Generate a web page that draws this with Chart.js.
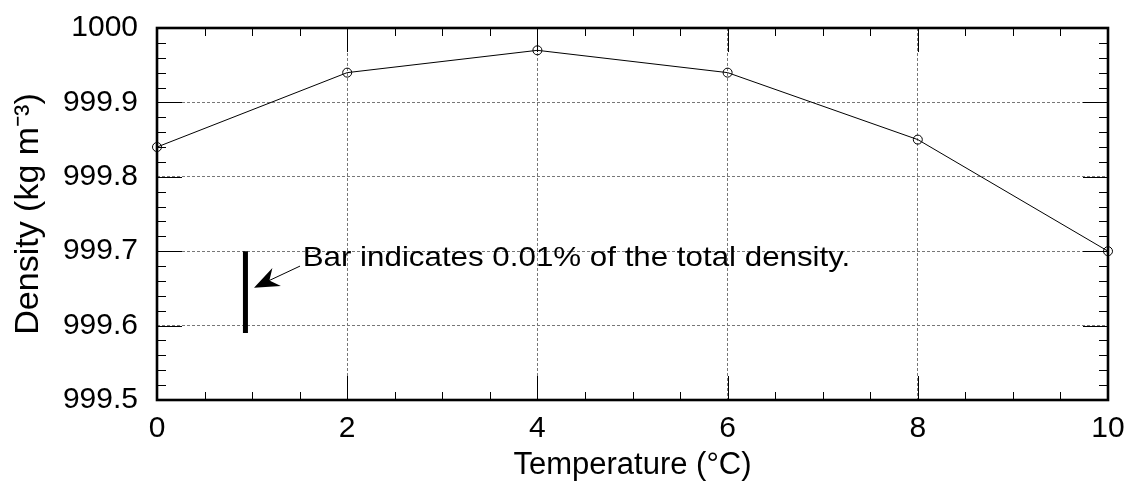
<!DOCTYPE html>
<html>
<head>
<meta charset="utf-8">
<script src="https://cdn.jsdelivr.net/npm/chart.js@4.4.0/dist/chart.umd.min.js"></script>
<style>
  html, body { margin: 0; padding: 0; background: #ffffff; }
  canvas { display: block; }
</style>
</head>
<body>
<canvas id="chart" width="1133" height="485"></canvas>
<script>
// ---- data ----
const temperatures = [0, 2, 4, 6, 8, 10];
const densities = [999.84, 999.94, 999.97, 999.94, 999.85, 999.70];

const xTickValues = [0, 2, 4, 6, 8, 10];
const xTickLabels = ['0', '2', '4', '6', '8', '10'];
const yTickValues = [999.5, 999.6, 999.7, 999.8, 999.9, 1000];
const yTickLabels = ['999.5', '999.6', '999.7', '999.8', '999.9', '1000'];

const xRange = [0, 10];
const yRange = [999.5, 1000];
const xMajorStep = 2, xMinorStep = 0.5;
const yMajorStep = 0.1, yMinorStep = 0.02;

// annotation: bar showing 0.01% of total density
const barX = [0.93, 0.93];
const barY = [999.70, 999.59];
const noteText = 'Bar indicates 0.01% of the total density.';
const notePos = { x: 1.532, y: 999.680 };
const noteEndX = 7.29;
const arrowTail = { x: 1.504, y: 999.680 };
const arrowTip = { x: 1.020, y: 999.651 };

const xTitle = 'Temperature (°C)';
const yTitle = 'Density (kg m⁻³)';

// ---- chart ----
const FONT = "'Liberation Sans', Arial, Helvetica, sans-serif";

const framePlugin = {
  id: 'frameTicks',
  afterDatasetsDraw(chart) {
    const { ctx, chartArea: a, scales: { x, y } } = chart;
    ctx.save();
    ctx.strokeStyle = '#000';
    ctx.lineWidth = 1;
    ctx.setLineDash([]);
    const seg = (x1, y1, x2, y2) => { ctx.beginPath(); ctx.moveTo(x1, y1); ctx.lineTo(x2, y2); ctx.stroke(); };

    // x ticks (bottom & top), inward
    const nx = Math.round((x.max - x.min) / xMinorStep);
    const xEvery = Math.round(xMajorStep / xMinorStep);
    for (let i = 0; i <= nx; i++) {
      const v = x.min + i * xMinorStep;
      const px = Math.round(x.getPixelForValue(v)) + 0.5;
      const len = (i % xEvery === 0) ? 24 : 8;
      seg(px, a.bottom, px, a.bottom - len);
      seg(px, a.top, px, a.top + len);
    }
    // y ticks (left & right), inward
    const ny = Math.round((y.max - y.min) / yMinorStep);
    const yEvery = Math.round(yMajorStep / yMinorStep);
    for (let i = 0; i <= ny; i++) {
      const v = y.min + i * yMinorStep;
      const py = Math.round(y.getPixelForValue(v)) + 0.5;
      const len = (i % yEvery === 0) ? 25 : 9;
      seg(a.left, py, a.left + len, py);
      seg(a.right, py, a.right - len, py);
    }
    // frame
    ctx.lineWidth = 2.6;
    ctx.strokeRect(a.left, a.top, a.right - a.left, a.bottom - a.top);

    // arrow
    const tx = x.getPixelForValue(arrowTail.x), ty = y.getPixelForValue(arrowTail.y);
    const hx = x.getPixelForValue(arrowTip.x), hy = y.getPixelForValue(arrowTip.y);
    const dx = tx - hx, dy = ty - hy, L = Math.hypot(dx, dy);
    const ux = dx / L, uy = dy / L, vx = -uy, vy = ux;
    ctx.lineWidth = 1;
    seg(tx, ty, hx + ux * 15, hy + uy * 15);
    ctx.fillStyle = '#000';
    ctx.beginPath();
    ctx.moveTo(hx, hy);
    ctx.lineTo(hx + ux * 25 + vx * 10, hy + uy * 25 + vy * 10);
    ctx.lineTo(hx + ux * 17, hy + uy * 17);
    ctx.lineTo(hx + ux * 25 - vx * 10, hy + uy * 25 - vy * 10);
    ctx.closePath();
    ctx.fill();

    // note text
    ctx.font = '28px ' + FONT;
    ctx.textBaseline = 'alphabetic';
    ctx.textAlign = 'left';
    const nx0 = x.getPixelForValue(notePos.x), ny0 = y.getPixelForValue(notePos.y);
    const w = ctx.measureText(noteText).width;
    const targetW = x.getPixelForValue(noteEndX) - nx0;
    ctx.translate(nx0, ny0);
    ctx.scale(targetW / w, 1);
    ctx.fillText(noteText, 0, 0);
    ctx.restore();
  }
};

new Chart(document.getElementById('chart'), {
  type: 'scatter',
  data: {
    datasets: [
      {
        label: 'Density',
        data: temperatures.map((t, i) => ({ x: t, y: densities[i] })),
        showLine: true,
        borderColor: '#000',
        borderWidth: 1,
        pointStyle: 'circle',
        pointRadius: 4.5,
        pointBorderWidth: 1,
        pointBorderColor: '#000',
        pointBackgroundColor: 'rgba(0,0,0,0)',
        clip: false
      },
      {
        label: 'Bar',
        data: barX.map((v, i) => ({ x: v, y: barY[i] })),
        showLine: true,
        borderColor: '#000',
        borderWidth: 5,
        borderCapStyle: 'butt',
        pointRadius: 0,
        clip: false
      }
    ]
  },
  options: {
    responsive: false,
    animation: false,
    events: [],
    layout: { padding: { left: 2, right: 25, top: 28, bottom: 0 } },
    plugins: { legend: { display: false }, tooltip: { enabled: false } },
    scales: {
      x: {
        type: 'linear',
        min: xRange[0], max: xRange[1],
        afterBuildTicks: s => { s.ticks = xTickValues.map(v => ({ value: v })); },
        afterFit: s => { s.height = 85; s.paddingLeft = 0; s.paddingRight = 0; },
        ticks: {
          padding: 11,
          color: '#000',
          font: { family: FONT, size: 30 },
          maxRotation: 0,
          callback: (v, i) => xTickLabels[i]
        },
        grid: { color: '#777', lineWidth: 1, drawTicks: false },
        border: { display: false, dash: [3, 2] },
        title: {
          display: true, text: xTitle, color: '#000',
          font: { family: FONT, size: 31 },
          padding: { top: 0, bottom: 1 }
        }
      },
      y: {
        type: 'linear',
        min: yRange[0], max: yRange[1],
        afterBuildTicks: s => { s.ticks = yTickValues.map(v => ({ value: v })); },
        afterFit: s => { s.width = 155; s.paddingTop = 0; s.paddingBottom = 0; },
        ticks: {
          padding: 19,
          color: '#000',
          font: { family: FONT, size: 30 },
          callback: (v, i) => yTickLabels[i]
        },
        grid: { color: '#777', lineWidth: 1, drawTicks: false },
        border: { display: false, dash: [3, 2] },
        title: {
          display: true, text: yTitle, color: '#000',
          font: { family: FONT, size: 34 },
          padding: { top: 6, bottom: 0 }
        }
      }
    }
  },
  plugins: [framePlugin]
});
</script>
</body>
</html>
